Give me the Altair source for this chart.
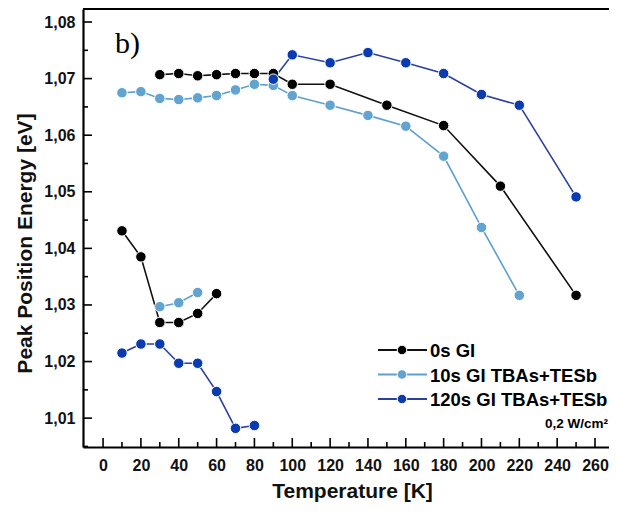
import altair as alt
import pandas as pd

series_names = ["0s GI", "10s GI TBAs+TESb", "120s GI TBAs+TESb"]
line_colors = ["#111111", "#5e9fcb", "#2b3f9e"]
point_colors = ["#000000", "#62a3cf", "#0b3bb0"]

# 0s GI
t0_low = [10, 20, 30, 40, 50, 60]
e0_low = [1.0431, 1.0385, 1.0269, 1.0269, 1.0285, 1.0320]
t0_high = [30, 40, 50, 60, 70, 80, 90, 100, 120, 150, 180, 210, 250]
e0_high = [1.0707, 1.0709, 1.0705, 1.0707, 1.0709, 1.0709, 1.0709, 1.0690,
           1.0690, 1.0653, 1.0617, 1.0510, 1.0317]
# 10s GI TBAs+TESb
t1_low = [30, 40, 50]
e1_low = [1.0297, 1.0304, 1.0322]
t1_high = [10, 20, 30, 40, 50, 60, 70, 80, 90, 100, 120, 140, 160, 180, 200, 220]
e1_high = [1.0675, 1.0677, 1.0665, 1.0663, 1.0666, 1.0670, 1.0680, 1.0690,
           1.0688, 1.0670, 1.0653, 1.0635, 1.0616, 1.0563, 1.0437, 1.0317]
# 120s GI TBAs+TESb
t2_low = [10, 20, 30, 40, 50, 60, 70, 80]
e2_low = [1.0215, 1.0231, 1.0231, 1.0197, 1.0197, 1.0147, 1.0082, 1.0087]
t2_high = [90, 100, 120, 140, 160, 180, 200, 220, 250]
e2_high = [1.0699, 1.0742, 1.0728, 1.0746, 1.0728, 1.0709, 1.0672, 1.0653, 1.0491]

x_major = [0, 20, 40, 60, 80, 100, 120, 140, 160, 180, 200, 220, 240, 260]
x_minor = [10, 30, 50, 70, 90, 110, 130, 150, 170, 190, 210, 230, 250]
y_major = [1.01, 1.02, 1.03, 1.04, 1.05, 1.06, 1.07, 1.08]
y_minor = [1.005, 1.015, 1.025, 1.035, 1.045, 1.055, 1.065, 1.075]

W, H = 526, 438
FONT = "Liberation Sans"

rows = []
for name, segs in [
    (series_names[0], [(t0_low, e0_low), (t0_high, e0_high)]),
    (series_names[1], [(t1_low, e1_low), (t1_high, e1_high)]),
    (series_names[2], [(t2_low, e2_low), (t2_high, e2_high)]),
]:
    for si, (ts, es) in enumerate(segs):
        for t, e in zip(ts, es):
            rows.append({"series": name, "seg": f"{name}-{si}", "T": t, "E": e})
df = pd.DataFrame(rows)

xs = alt.Scale(domain=[-10.6, 267.4], nice=False, zero=False)
ys = alt.Scale(domain=[1.0049, 1.0823], nice=False, zero=False)

x_enc = alt.X("T:Q", scale=xs, title="Temperature [K]",
              axis=alt.Axis(values=x_major, tickSize=0, labelPadding=10,
                            titlePadding=7, titleX=269, grid=False))
y_enc = alt.Y("E:Q", scale=ys, title="Peak Position Energy [eV]",
              axis=alt.Axis(values=y_major, tickSize=0, labelPadding=8,
                            titlePadding=8, titleY=234, grid=False,
                            labelExpr="replace(format(datum.value, '.2f'), '.', ',')"))

lines = alt.Chart(df).mark_line(strokeWidth=1.6).encode(
    x=x_enc, y=y_enc,
    color=alt.Color("series:N", scale=alt.Scale(domain=series_names, range=line_colors), legend=None),
    detail="seg:N",
)
points = alt.Chart(df).mark_point(filled=True, size=110, stroke="white", strokeWidth=1, opacity=1).encode(
    x=alt.X("T:Q", scale=xs), y=alt.Y("E:Q", scale=ys),
    fill=alt.Fill("series:N", scale=alt.Scale(domain=series_names, range=point_colors), legend=None),
    order=alt.Order("series:N"),
)

def xticks(vals, length):
    return alt.Chart(pd.DataFrame({"T": vals})).mark_rule(color="black", strokeWidth=1.6).encode(
        x=alt.X("T:Q", scale=xs), y=alt.value(H), y2=alt.value(H - length))

def yticks(vals, length):
    return alt.Chart(pd.DataFrame({"E": vals})).mark_rule(color="black", strokeWidth=1.6).encode(
        y=alt.Y("E:Q", scale=ys), x=alt.value(0), x2=alt.value(length))

top_border = alt.Chart(pd.DataFrame({"a": [0]})).mark_rule(color="black", strokeWidth=2.2).encode(
    x=alt.value(0), x2=alt.value(W), y=alt.value(0))

legend_layers = []
for i, name in enumerate(series_names):
    yy = 341 + 24.5 * i
    base = alt.Chart(pd.DataFrame({"label": [name]}))
    legend_layers.append(base.mark_rule(color=line_colors[i], strokeWidth=2).encode(
        x=alt.value(295), x2=alt.value(344), y=alt.value(yy)))
    legend_layers.append(base.mark_point(filled=True, size=90, color=point_colors[i],
                                         stroke="white", strokeWidth=1, opacity=1).encode(
        x=alt.value(319), y=alt.value(yy)))
    legend_layers.append(base.mark_text(align="left", baseline="middle", font=FONT,
                                        fontSize=18.5, fontWeight="bold", color="black").encode(
        x=alt.value(347), y=alt.value(yy + 1), text="label:N"))

note = alt.Chart(pd.DataFrame({"t": ["0,2 W/cm²"]})).mark_text(
    align="right", baseline="middle", font=FONT, fontSize=13.5, fontWeight="bold", color="black"
).encode(x=alt.value(W - 1), y=alt.value(415), text="t:N")

panel = alt.Chart(pd.DataFrame({"t": ["b)"]})).mark_text(
    align="left", baseline="alphabetic", font="Liberation Serif", fontSize=30, color="black"
).encode(x=alt.value(32), y=alt.value(44), text="t:N")

chart = alt.layer(
    lines, points,
    xticks(x_major, 9), xticks(x_minor, 5), yticks(y_major, 9), yticks(y_minor, 5),
    top_border, *legend_layers, note, panel,
).properties(
    width=W, height=H,
    autosize=alt.AutoSizeParams(type="none"),
    padding={"left": 75, "top": 1, "right": 0, "bottom": 58},
).configure_view(stroke=None).configure_axis(
    domainColor="black", domainWidth=2.2,
    labelFont=FONT, labelFontSize=16, labelFontWeight="bold", labelColor="#111111",
    titleFont=FONT, titleFontSize=21, titleFontWeight="bold", titleColor="#111111",
)

chart.save("out.html", embed_options={"renderer": "svg", "actions": False})
